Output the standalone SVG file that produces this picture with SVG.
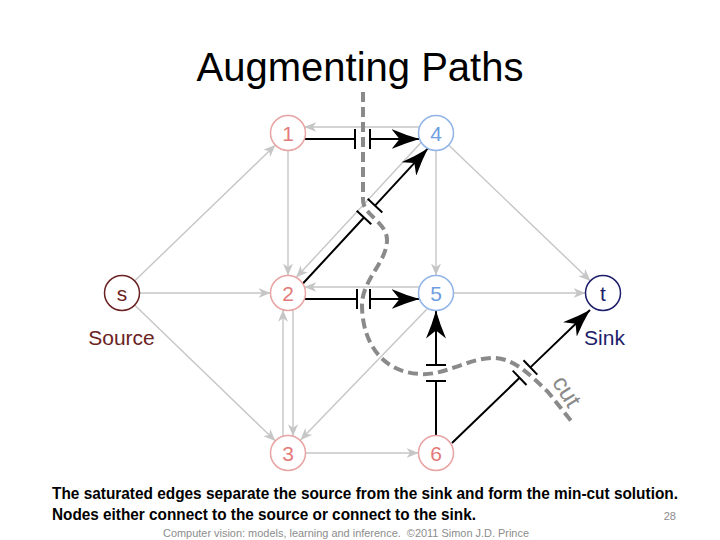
<svg xmlns="http://www.w3.org/2000/svg" width="720" height="540" viewBox="0 0 720 540">
<style>
.bg{fill:#ffffff}
.title{font-family:"Liberation Sans",Arial,sans-serif;font-size:40px;fill:#000}
.body{font-family:"Liberation Sans",Arial,sans-serif;font-size:16px;font-weight:bold;fill:#000}
.foot{font-family:"Liberation Sans",Arial,sans-serif;font-size:11px;fill:#8c8c8c}
.g{stroke:#c6c6c6;stroke-width:1.4;fill:none}
.b{stroke:#000;stroke-width:2;fill:none}
.bar{stroke:#000;stroke-width:2;fill:none}
.cut{stroke:#8a8a8a;stroke-width:4;fill:none;stroke-dasharray:10 5}
.nr circle{fill:#fff;stroke:#e8a3a3;stroke-width:1.5}
.nr text{fill:#e47a7a}
.nb circle{fill:#fff;stroke:#92b4e6;stroke-width:1.5}
.nb text{fill:#6f9de0}
.ns circle{fill:#fff;stroke:#6b2222;stroke-width:1.5}
.ns text{fill:#6b2222}
.nt circle{fill:#fff;stroke:#1d1d6b;stroke-width:1.5}
.nt text{fill:#1d1d6b}
.lbl{font-family:"Liberation Sans",Arial,sans-serif;font-size:21px;text-anchor:middle}
</style>
<defs>
<marker id="ag" viewBox="0 0 12 10" refX="12" refY="5" markerWidth="12" markerHeight="10" orient="auto" markerUnits="userSpaceOnUse">
<path d="M0,0 L12,5 L0,10 L3.5,5 z" fill="#c6c6c6"/>
</marker>
<marker id="ab" viewBox="0 0 28 20" refX="28" refY="10" markerWidth="28" markerHeight="20" orient="auto" markerUnits="userSpaceOnUse">
<path d="M0,0 Q14,6 28,10 Q14,14 0,20 L8,10 z" fill="#000"/>
</marker>
</defs>
<rect class="bg" x="0" y="0" width="720" height="540"/>
<text class="title" x="360" y="81" text-anchor="middle">Augmenting Paths</text>

<g id="connectors">
<!-- gray residual edges -->
<line class="g" x1="134.6" y1="280.9" x2="275.4" y2="145.1" marker-end="url(#ag)"/>
<line class="g" x1="139.5" y1="293" x2="270.5" y2="293" marker-end="url(#ag)"/>
<line class="g" x1="134.6" y1="305.1" x2="275.4" y2="440.9" marker-end="url(#ag)"/>
<line class="g" x1="288" y1="150.5" x2="288" y2="275.5" marker-end="url(#ag)"/>
<line class="g" x1="419.6" y1="127" x2="304.4" y2="127" marker-end="url(#ag)"/>
<line class="g" x1="436" y1="150.5" x2="436" y2="275.5" marker-end="url(#ag)"/>
<line class="g" x1="448.6" y1="145.1" x2="590.4" y2="280.9" marker-end="url(#ag)"/>
<line class="g" x1="421.3" y1="142.2" x2="296.1" y2="277.6" marker-end="url(#ag)"/>
<line class="g" x1="419.6" y1="287" x2="304.4" y2="287" marker-end="url(#ag)"/>
<line class="g" x1="453.5" y1="293" x2="585.5" y2="293" marker-end="url(#ag)"/>
<line class="g" x1="283" y1="436.2" x2="283" y2="309.8" marker-end="url(#ag)"/>
<line class="g" x1="293" y1="309.8" x2="293" y2="436.2" marker-end="url(#ag)"/>
<line class="g" x1="427" y1="309" x2="300.5" y2="440" marker-end="url(#ag)"/>
<line class="g" x1="305.5" y1="453" x2="418.5" y2="453" marker-end="url(#ag)"/>

<!-- black saturated edges -->
<path class="b" d="M304.5,139 L355,139 M370,139 L419.5,139" marker-end="url(#ab)"/>
<path class="bar" d="M355,129 V149 M370,129 V149"/>
<path class="b" d="M304.5,299 L357,299 M370,299 L419.5,299" marker-end="url(#ab)"/>
<path class="bar" d="M357,289 V309 M370,289 V309"/>
<path class="b" d="M302.7,283.8 L364,217.5 M375,205.6 L427.9,148.4" marker-end="url(#ab)"/>
<path class="bar" d="M356.7,210.7 L371.3,224.3 M367.7,198.8 L382.3,212.4"/>
<path class="b" d="M436,435.5 L436,381 M436,365 L436,310.5" marker-end="url(#ab)"/>
<path class="bar" d="M426,365 H446 M426,381 H446"/>
<path class="b" d="M452,443 L519.6,377.8 M530.4,367.4 L590,310" marker-end="url(#ab)"/>
<path class="bar" d="M512.7,370.6 L526.5,385 M523.5,360.2 L537.3,374.6"/>

<!-- cut -->
<path class="cut" d="M363,92 L363,200 C363,215 387,222 387,240 C387,262 362,280 362,305 C362,340 380,372 420,374 C445,376 470,357 495,358 C515,359 530,375 548,392 L572,422"/>
<text x="566" y="399" transform="rotate(58 566 392)" text-anchor="middle" style="font-family:'Liberation Sans',Arial,sans-serif;font-size:24px;fill:#8a8a8a">cut</text>
</g>

<g id="node-s" class="ns"><circle cx="122" cy="293" r="17.5"/><text class="lbl" x="122" y="300.5">s</text></g>
<g id="node-1" class="nr"><circle cx="288" cy="133" r="17.5"/><text class="lbl" x="288" y="140.5">1</text></g>
<g id="node-4" class="nb"><circle cx="436" cy="133" r="17.5"/><text class="lbl" x="436" y="140.5">4</text></g>
<g id="node-2" class="nr"><circle cx="288" cy="293" r="17.5"/><text class="lbl" x="288" y="300.5">2</text></g>
<g id="node-5" class="nb"><circle cx="436" cy="293" r="17.5"/><text class="lbl" x="436" y="300.5">5</text></g>
<g id="node-t" class="nt"><circle cx="603" cy="293" r="17.5"/><text class="lbl" x="603" y="300.5">t</text></g>
<g id="node-3" class="nr"><circle cx="288" cy="453" r="17.5"/><text class="lbl" x="288" y="460.5">3</text></g>
<g id="node-6" class="nr"><circle cx="436" cy="453" r="17.5"/><text class="lbl" x="436" y="460.5">6</text></g>

<text class="lbl" x="121.5" y="345" fill="#6b2222">Source</text>
<text class="lbl" x="604.5" y="345" fill="#1d1d6b">Sink</text>

<text class="body" x="52" y="499" textLength="626" lengthAdjust="spacingAndGlyphs">The saturated edges separate the source from the sink and form the min-cut solution.</text>
<text class="body" x="52" y="520" textLength="424" lengthAdjust="spacingAndGlyphs">Nodes either connect to the source or connect to the sink.</text>
<text class="foot" x="676" y="520" text-anchor="end">28</text>
<text class="foot" x="163" y="537" textLength="366" lengthAdjust="spacingAndGlyphs" xml:space="preserve">Computer vision: models, learning and inference.  ©2011 Simon J.D. Prince</text>
</svg>
